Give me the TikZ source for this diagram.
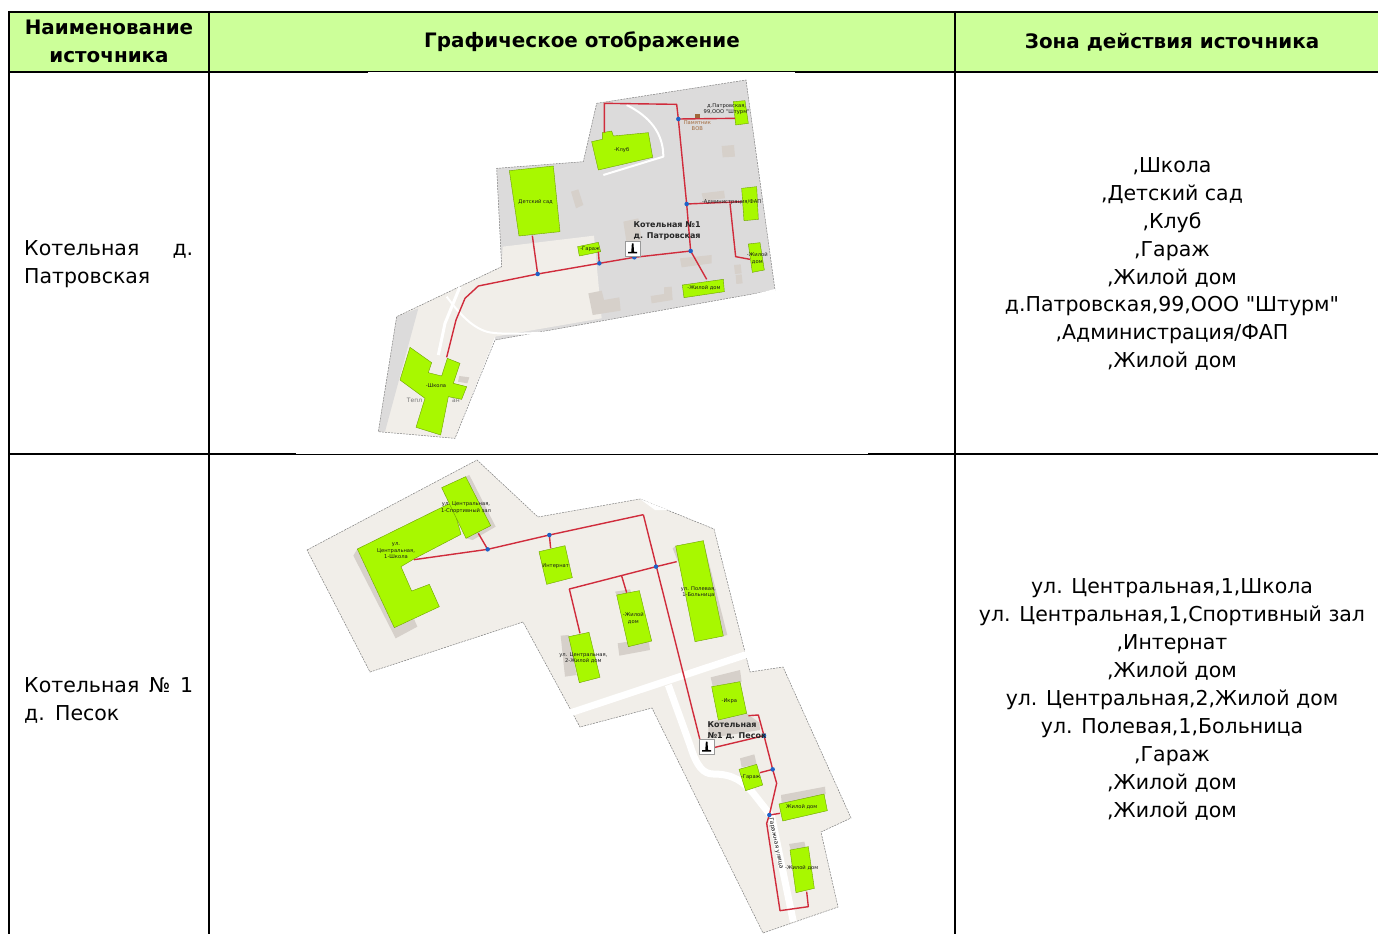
\documentclass[tikz,border=0pt]{standalone}
\usepackage{fontspec}
\setmainfont{DejaVu Sans}[Ligatures=TeXOff]
\definecolor{headfill}{HTML}{CCFF99}
\definecolor{mapcream}{HTML}{F1EEE9}
\definecolor{mapgray}{HTML}{DCDBDB}
\definecolor{mapbeige}{HTML}{D6D0CA}
\definecolor{bldgreen}{HTML}{A8F800}
\definecolor{pipered}{HTML}{D02C3C}
\definecolor{dotblue}{HTML}{1F62C8}
\definecolor{monbrown}{HTML}{A0683A}
\tikzset{
  rule/.style={line width=2pt,black},
  cellhead/.style={font=\fontsize{19.9}{27.5}\selectfont\bfseries,align=center,inner sep=0},
  cellbody/.style={font=\fontsize{20.5}{27.9}\selectfont,align=center,inner sep=0},
  outline/.style={draw=gray,line width=.5pt,dash pattern=on 2pt off 1pt},
  shadowbld/.style={fill=mapbeige},
  bld/.style={fill=bldgreen,draw=black!35!bldgreen,line width=.4pt},
  pipe/.style={draw=pipered,line width=1.4pt,line join=round},
  road/.style={draw=white,line width=#1,line join=round},
  jn/.style={circle,fill=dotblue,inner sep=0,minimum size=4.5pt},
  tiny/.style={font=\fontsize{5.2}{6.2}\selectfont,align=center,inner sep=0,text=black!90},
  boil/.style={font=\fontsize{8}{11}\selectfont\bfseries,inner sep=0,text=black!85,align=left},
  za/.style={shift={(370,70)},x=.33333pt,y=-.33333pt},
  zb/.style={shift={(300,455)},x=.33333pt,y=-.33333pt},
  zc/.style={shift={(560,650)},x=.33333pt,y=-.33333pt},
  zd/.style={shift={(520,480)},x=.33333pt,y=-.33333pt},
}
\newcommand{\boilericon}[1]{%
  \fill[white,draw=black!40,line width=.5pt] ([xshift=-7.5pt,yshift=-7.5pt]#1) rectangle ([xshift=7.5pt,yshift=7.5pt]#1);
  \fill[black] ([xshift=-.8pt,yshift=5pt]#1) -- ([xshift=.8pt,yshift=5pt]#1) -- ([xshift=1.4pt,yshift=-3.5pt]#1) -- ([xshift=4.5pt,yshift=-3.5pt]#1) -- ([xshift=4.5pt,yshift=-5pt]#1) -- ([xshift=-4.5pt,yshift=-5pt]#1) -- ([xshift=-4.5pt,yshift=-3.5pt]#1) -- ([xshift=-1.4pt,yshift=-3.5pt]#1) -- cycle;}
\begin{document}
\begin{tikzpicture}[x=1pt,y=-1pt]
\useasboundingbox (0,0) rectangle (1378,934);
\fill[white] (0,0) rectangle (1378,934);
% table
\fill[headfill] (9,12) rectangle (1378,72);
\draw[rule] (8,12) -- (1378,12);
\draw[rule] (8,72) -- (1378,72);
\draw[rule] (8,454) -- (1378,454);
\draw[rule] (9,11) -- (9,934);
\draw[rule] (209,11) -- (209,934);
\draw[rule] (955,11) -- (955,934);
% image backgrounds that nibble the rules
\fill[white] (368,72.4) rectangle (795,74);
\fill[white] (296,452.9) rectangle (868,453.8);
% texts
\node[cellhead] (h1) at (109,41.5) {Наименование\\источника};
\node[cellhead] (h2) at (582,42) {Графическое отображение};
\node[cellhead] (h3) at (1172,42) {Зона действия источника};
\node[cellbody,text width=169pt,align=left,anchor=west] (n1) at (24,264) {Котельная\hfill д.\\Патровская};
\node[cellbody,text width=169pt,align=left,anchor=west] (n2) at (24,700) {Котельная\hfill №\hfill 1\\д. Песок};
\node[cellbody] (z1) at (1172,264) {,Школа\\,Детский сад\\,Клуб\\,Гараж\\,Жилой дом\\д.Патровская,99,ООО "Штурм"\\,Администрация/ФАП\\,Жилой дом};
\node[cellbody] (z2) at (1172,699.5) {ул. Центральная,1,Школа\\ул. Центральная,1,Спортивный зал\\,Интернат\\,Жилой дом\\ул. Центральная,2,Жилой дом\\ул. Полевая,1,Больница\\,Гараж\\,Жилой дом\\,Жилой дом};
% ---------- map 1
\begin{scope}[za]
  \fill[mapgray] (680,100) -- (1128,30) -- (1215,660) -- (375,810) -- (395,590) -- (380,295) -- (640,275) -- cycle;
  \fill[mapcream] (398,530) -- (672,497) -- (695,745) -- (375,800) -- (255,1105) -- (25,1085) -- (80,740) -- (395,590) -- cycle;
  \fill[mapgray] (80,740) -- (145,715) -- (45,1085) -- (25,1085) -- cycle;
  \draw[outline] (680,100) -- (1128,30) -- (1215,660) -- (375,810) -- (255,1105) -- (25,1085) -- (80,740) -- (395,590) -- (380,295) -- (640,275) -- cycle;
  \draw[road=2pt] (770,105) .. controls (840,140) and (880,190) .. (880,260) -- (700,315);
  \draw[road=2pt] (1215,660) -- (800,765) .. controls (600,785) and (400,800) .. (350,785) .. controls (300,770) and (260,720) .. (230,680);
  \draw[road=3pt] (270,650) -- (225,760) -- (205,855);
  \foreach \p in {
    {(603,365) -- (625,358) -- (640,405) -- (618,415)},
    {(760,455) -- (805,445) -- (815,510) -- (770,520)},
    {(930,565) -- (1025,555) -- (1025,580) -- (935,592)},
    {(995,370) -- (1062,362) -- (1065,385) -- (1000,392)},
    {(1055,228) -- (1092,225) -- (1095,260) -- (1058,262)},
    {(655,670) -- (695,662) -- (702,690) -- (748,682) -- (752,722) -- (668,735)},
    {(842,678) -- (882,672) -- (882,652) -- (905,650) -- (908,690) -- (845,700)},
    {(1092,585) -- (1112,583) -- (1115,610) -- (1095,612)},
    {(1097,615) -- (1115,613) -- (1118,640) -- (1099,642)},
    {(268,918) -- (298,922) -- (292,940) -- (264,935)}}
    {\fill[mapbeige] \p -- cycle;}
  \node[tiny,text=black!55,font=\fontsize{6}{8}\selectfont] (t1a) at (190,1005) {Тепл\hspace{30pt}ан\\д};
  \foreach \p in {
    {(418,302) -- (550,288) -- (570,485) -- (447,498)},
    {(665,215) -- (697,208) -- (697,188) -- (725,183) -- (730,198) -- (835,188) -- (848,262) -- (685,300)},
    {(1090,95) -- (1125,92) -- (1135,160) -- (1097,165)},
    {(1115,355) -- (1160,350) -- (1165,448) -- (1122,452)},
    {(1135,522) -- (1170,518) -- (1183,600) -- (1147,607)},
    {(937,645) -- (1060,628) -- (1063,665) -- (942,683)},
    {(623,530) -- (685,517) -- (692,545) -- (628,558)},
    {(120,832) -- (185,878) -- (175,908) -- (215,918) -- (232,865) -- (270,880) -- (250,940) -- (290,950) -- (275,988) -- (235,980) -- (212,1095) -- (138,1072) -- (165,985) -- (90,930)}}
    {\path[bld] \p -- cycle;}
  \coordinate (a1) at (925,147); \coordinate (a2) at (950,402); \coordinate (a3) at (962,543);
  \coordinate (a4) at (793,562); \coordinate (a5) at (688,580); \coordinate (a6) at (503,612);
  \draw[pipe] (230,862) -- (258,750) -- (285,685) -- (325,648) -- (a6) -- (a5) -- (a4) -- (a3) -- (a2) -- (a1) -- (920,103) -- (703,100) -- (703,188);
  \draw[pipe] (a1) -- (1095,145);
  \draw[pipe] (a2) -- (1115,395);
  \draw[pipe] (1080,400) -- (1097,560) -- (1140,568);
  \draw[pipe] (a3) -- (1010,628);
  \draw[pipe] (a6) -- (487,497);
  \draw[pipe] (a5) -- (685,545);
  \foreach \c in {a1,a2,a3,a4,a5,a6} \node[jn] at (\c) {};
  \fill[monbrown] (975,133) rectangle (990,145);
  \boilericon{788,535}
  \node[tiny] (l1) at (755,240) {-Клуб};
  \node[tiny] (l2) at (497,395) {Детский сад};
  \node[tiny] (l3) at (660,537) {-Гараж};
  \node[tiny] (l4) at (1002,655) {-Жилой дом};
  \node[tiny] (l5) at (1162,565) {-Жилой\\дом};
  \node[tiny] (l6) at (1085,395) {-Администрация/ФАП};
  \node[tiny] (l7) at (1070,118) {д.Патровская,\\99,ООО "Штурм"};
  \node[tiny,text=monbrown] (l8) at (982,168) {Памятник\\ВОВ};
  \node[tiny] (l9) at (198,947) {-Школа};
  \node[boil,anchor=west,align=center] (b1) at (790,484) {Котельная №1\\д. Патровская};
\end{scope}
% ---------- map 2
\fill[mapcream] (307,550) -- (477,460) -- (538,517) -- (640,499) -- (714,529) -- (750,672) -- (783,667) -- (851,818) -- (821,832) -- (838,907) -- (763,933) -- (652,708) -- (580,727) -- (523,622) -- (370,672) -- cycle;
\draw[outline] (307,550) -- (477,460) -- (538,517) -- (640,499) -- (714,529) -- (750,672) -- (783,667) -- (851,818) -- (821,832) -- (838,907) -- (763,933) -- (652,708) -- (580,727) -- (523,622) -- (370,672) -- cycle;
\fill[white] (640,499) -- (668,510) -- (655,510) -- cycle;
\draw[road=7pt] (570,713) -- (748,654);
\begin{scope}[zc]
  \draw[road=7pt] (325,105) -- (390,285) .. controls (410,350) and (430,372) .. (460,372) .. controls (520,372) and (550,395) .. (580,430) -- (635,500) -- (700,815);
  \foreach \p in {
    {(452,82) -- (540,60) -- (545,95) -- (458,108)},
    {(475,210) -- (560,190) -- (598,218) -- (600,240) -- (445,265) -- (445,215)},
    {(540,325) -- (583,313) -- (590,343) -- (545,352)},
    {(663,435) -- (795,410) -- (797,432) -- (665,460)},
    {(687,582) -- (733,575) -- (737,592) -- (692,598)}}
    {\fill[mapbeige] \p -- cycle;}
  \foreach \p in {
    {(455,110) -- (540,95) -- (560,190) -- (475,210)},
    {(537,358) -- (590,343) -- (608,405) -- (557,422)},
    {(657,462) -- (792,432) -- (802,482) -- (668,513)},
    {(690,600) -- (745,590) -- (763,715) -- (708,728)}}
    {\path[bld] \p -- cycle;}
\end{scope}
\begin{scope}[zb]
  \foreach \p in {
    {(160,302) -- (172,282) -- (283,518) -- (342,492) -- (352,515) -- (287,550)},
    {(497,65) -- (508,60) -- (587,215) -- (518,255) -- (498,250)}}
    {\fill[mapbeige] \p -- cycle;}
  \foreach \p in {
    {(172,282) -- (456,142) -- (483,238) -- (345,310) -- (303,335) -- (335,408) -- (388,388) -- (418,455) -- (283,518)},
    {(425,98) -- (497,65) -- (572,212) -- (498,250)},
    {(717,290) -- (795,272) -- (817,368) -- (740,388)}}
    {\path[bld] \p -- cycle;}
\end{scope}
\begin{scope}[zd]
  \foreach \p in {
    {(285,335) -- (330,328) -- (335,340) -- (292,348)},
    {(293,490) -- (385,475) -- (390,510) -- (298,527)},
    {(550,182) -- (622,465) -- (610,468)},
    {(458,205) -- (467,198) -- (480,260)},
    {(122,467) -- (146,465) -- (170,585) -- (135,590)}}
    {\fill[mapbeige] \p -- cycle;}
  \foreach \p in {
    {(290,345) -- (358,332) -- (395,483) -- (325,500)},
    {(467,198) -- (550,182) -- (610,468) -- (525,485)},
    {(146,470) -- (207,457) -- (240,592) -- (178,608)}}
    {\path[bld] \p -- cycle;}
  \coordinate (d1) at (88,165);
  \coordinate (d2) at (408,260);
  \coordinate (d3) at (370,104);
  \draw[pipe] (470,245) -- (d2) -- (148,327) -- (180,460);
  \draw[pipe] (305,288) -- (320,338);
  \draw[pipe] (d1) -- (92,205);
\end{scope}
\begin{scope}[zb]
  \coordinate (b1c) at (563,283);
  \draw[pipe] (342,314) -- (b1c) -- (d1) -- (d3);
  \draw[pipe] (b1c) -- (535,235);
\end{scope}
\begin{scope}[zc]
  \coordinate (c1) at (612,257);
  \coordinate (c2) at (638,358);
  \coordinate (c3) at (628,495);
  \coordinate (c0) at (420,270);
  \draw[pipe] (d3) -- (c0);
  \draw[pipe] (465,292) -- (c1) -- (595,195) -- (565,197);
  \draw[pipe] (c1) -- (c2) -- (650,400) -- (c3) -- (620,520) -- (660,782) -- (745,770) -- (740,725);
  \draw[pipe] (c2) -- (600,368);
  \draw[pipe] (c3) -- (660,490);
  \foreach \c in {c1,c2,c3} \node[jn] at (\c) {};
  \node[jn] at (b1c) {};
  \node[jn] at (d1) {};
  \node[jn] at (d2) {};
  \boilericon{440,290}
  \node[tiny] (m1) at (508,153) {-Икра};
  \node[tiny] (m2) at (572,382) {-Гараж};
  \node[tiny] (m3) at (725,472) {Жилой дом};
  \node[tiny] (m4) at (725,653) {-Жилой дом};
  \node[tiny,rotate=-78,font=\fontsize{6}{7}\selectfont] (m5) at (648,580) {Гаражная улица};
  \node[boil,anchor=west] (m6) at (442,223) {Котельная};
  \node[boil,anchor=west] (m7) at (442,258) {№1 д. Песок};
\end{scope}
\begin{scope}[zb]
  \node[tiny] (m8) at (498,158) {ул. Центральная,\\1-Спортивный зал};
  \node[tiny] (m9) at (288,287) {ул.\\Центральная,\\1-Школа};
  \node[tiny] (m10) at (767,332) {Интернат};
\end{scope}
\begin{scope}[zd]
  \node[tiny] (m11) at (340,415) {-Жилой\\дом};
  \node[tiny] (m12) at (535,335) {ул. Полевая,\\1-Больница};
  \node[tiny] (m13) at (190,533) {ул. Центральная,\\2-Жилой дом};
\end{scope}
\end{tikzpicture}
\end{document}
